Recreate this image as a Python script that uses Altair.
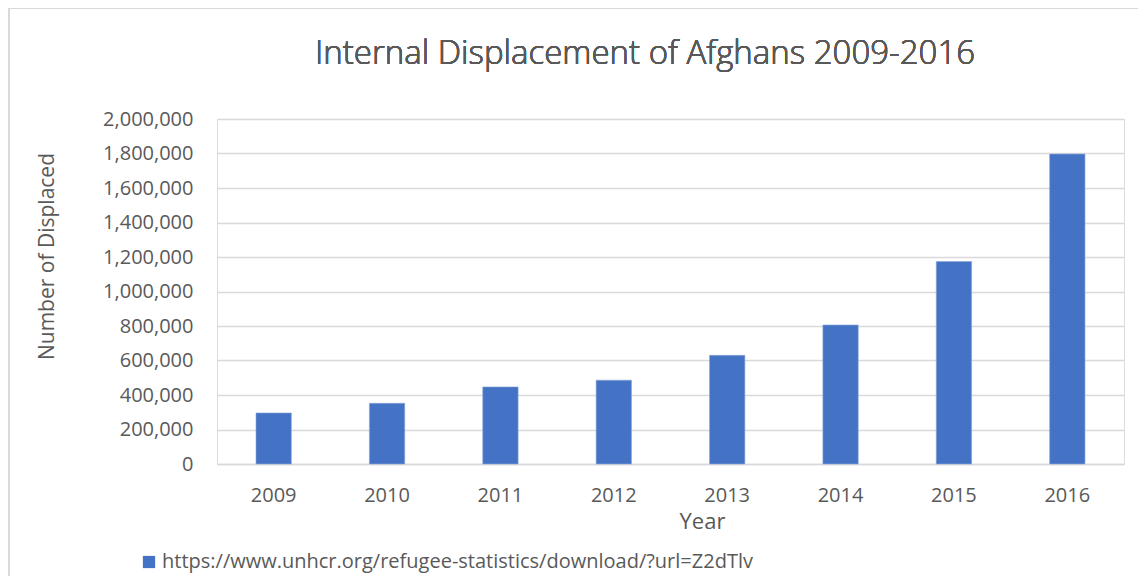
import altair as alt
import pandas as pd

years = ["2009", "2010", "2011", "2012", "2013", "2014", "2015", "2016"]
displaced = [296000, 352000, 447000, 486000, 630000, 806000, 1174000, 1797000]
series_name = "https://www.unhcr.org/refugee-statistics/download/?url=Z2dTlv"
title_text = "Internal Displacement of Afghans 2009-2016"

df = pd.DataFrame({"Year": years, "Displaced": displaced, "Series": series_name})

FONT = "Open Sans"
TXT = "#595959"
GRID = "#d9d9d9"
BAR = "#4472C4"

bars = alt.Chart(df).mark_bar(color=BAR, stroke="#8FAADC", strokeWidth=0.6).encode(
    x=alt.X(
        "Year:N",
        sort=years,
        scale=alt.Scale(paddingInner=0.688, paddingOuter=0.344),
        axis=alt.Axis(
            title="Year",
            labelAngle=0,
            ticks=False,
            domain=True,
            domainColor=GRID,
            domainWidth=1.5,
            labelPadding=21,
            labelFontSize=20,
            labelColor=TXT,
            labelFont=FONT,
            titleFont=FONT,
            titleFontSize=22,
            titleFontWeight="normal",
            titleColor=TXT,
            titleX=485,
            titleY=47,
            titleBaseline="top",
            titleAnchor="start",
            titleAlign="center",
        ),
    ),
    y=alt.Y(
        "Displaced:Q",
        scale=alt.Scale(domain=[0, 2000000], nice=False),
        axis=alt.Axis(
            title="Number of Displaced",
            values=[0, 200000, 400000, 600000, 800000, 1000000, 1200000, 1400000, 1600000, 1800000, 2000000],
            format=",d",
            ticks=False,
            domain=False,
            grid=True,
            gridColor=GRID,
            gridWidth=1.5,
            labelPadding=24,
            labelFontSize=20,
            labelColor=TXT,
            labelFont=FONT,
            titleFont=FONT,
            titleFontSize=21,
            titleFontWeight="normal",
            titleColor=TXT,
            titleX=-160,
            titleY=137,
            titleBaseline="bottom",
            titleAlign="center",
            titleAnchor="start",
        ),
    ),
    color=alt.Color(
        "Series:N",
        scale=alt.Scale(range=[BAR]),
        legend=alt.Legend(
            title=None,
            orient="none",
            legendX=-78,
            legendY=433,
            symbolType="square",
            symbolSize=150,
            symbolStrokeWidth=0,
            labelFont=FONT,
            labelFontSize=20,
            labelColor=TXT,
            labelOffset=3,
            labelLimit=800,
        ),
    ),
)

title_mark = alt.Chart(df).mark_text(
    text=title_text,
    font=FONT,
    fontSize=33,
    fontWeight=300,
    color=TXT,
    align="center",
    baseline="alphabetic",
).encode(x=alt.value(428), y=alt.value(-55))

border_left = alt.Chart(df).mark_rule(color=GRID, strokeWidth=1.5).encode(
    x=alt.value(-208), y=alt.value(-111), y2=alt.value(470)
)
border_top = alt.Chart(df).mark_rule(color=GRID, strokeWidth=1.5).encode(
    x=alt.value(-208), x2=alt.value(925), y=alt.value(-111)
)

chart = alt.layer(border_left, border_top, title_mark, bars).properties(
    width=907,
    height=345,
    autosize=alt.AutoSizeParams(type="none"),
    padding={"left": 209, "top": 111, "right": 14, "bottom": 112},
).configure_view(stroke=None).configure(background="white")

chart.save("out.html", embed_options={"renderer": "svg", "actions": False})
